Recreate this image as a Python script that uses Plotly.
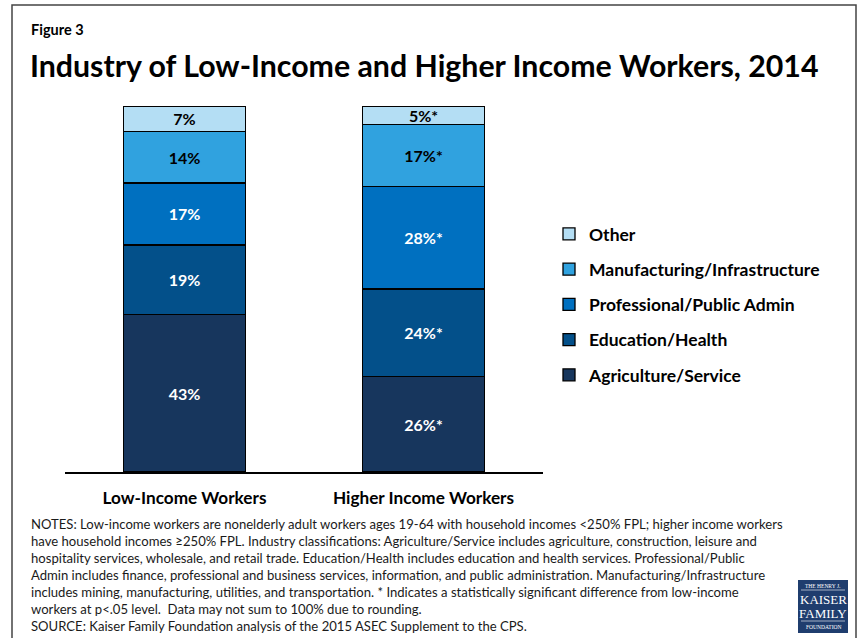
import plotly.graph_objects as go

# ---------------- data ----------------
categories = ["Low-Income Workers", "Higher Income Workers"]
series = ["Agriculture/Service", "Education/Health", "Professional/Public Admin",
          "Manufacturing/Infrastructure", "Other"]
low_income = [43, 19, 17, 14, 7]
higher_income = [26, 24, 28, 17, 5]
higher_significant = [True, True, True, True, True]

colors = ["#17365D", "#03508A", "#0070C0", "#30A2DF", "#B4DEF4"]
label_colors = ["white", "white", "white", "black", "black"]

notes_lines = [
    "NOTES: Low-income workers are nonelderly adult workers ages 19-64 with household incomes &lt;250% FPL; higher income workers",
    "have household incomes ≥250% FPL. Industry classifications: Agriculture/Service includes agriculture, construction, leisure and",
    "hospitality services, wholesale, and retail trade. Education/Health includes education and health services. Professional/Public",
    "Admin includes finance, professional and business services, information, and public administration. Manufacturing/Infrastructure",
    "includes mining, manufacturing, utilities, and transportation. * Indicates a statistically significant difference from low-income",
    "workers at p&lt;.05 level.  Data may not sum to 100% due to rounding.",
    "SOURCE: Kaiser Family Foundation analysis of the 2015 ASEC Supplement to the CPS.",
]

FONT = "Lato"
W, H = 861, 638
L, R, T, B = 65, 318, 106, 166
PW, PH = W - L - R, H - T - B


def px(x):
    return (x - L) / PW


def py(y):
    return (H - B - y) / PH


fig = go.Figure()
n = len(series)
for i, name in enumerate(series):
    txt = [f"{low_income[i]}%", f"{higher_income[i]}%" + ("*" if higher_significant[i] else "")]
    fig.add_trace(go.Bar(
        x=categories, y=[low_income[i], higher_income[i]], name=name,
        marker=dict(color=colors[i], line=dict(color="black", width=1.3)),
        text=txt, texttemplate="<b>%{text}</b>", textposition="inside",
        insidetextanchor="middle", constraintext="none",
        textfont=dict(family=FONT, size=16, color=label_colors[i]),
        width=0.51, legendgroup=name, legendrank=n - i, hoverinfo="skip",
    ))

fig.update_layout(
    width=W, height=H, autosize=False,
    margin=dict(l=L, r=R, t=T, b=B, pad=0),
    paper_bgcolor="white", plot_bgcolor="white",
    barmode="stack", bargap=0.49,
    font=dict(family=FONT, color="black"),
    showlegend=True,
    legend=dict(traceorder="grouped", x=px(549), y=py(216), xanchor="left", yanchor="top",
                font=dict(family=FONT, size=17.5, color="black", weight="bold"),
                tracegroupgap=9.5, itemwidth=30, bgcolor="rgba(0,0,0,0)"),
    xaxis=dict(range=[-0.5, 1.5], showline=True, linecolor="black", linewidth=1.5,
               showgrid=False, zeroline=False, ticks="", ticklabelstandoff=10,
               tickfont=dict(family=FONT, size=17.2, color="black", weight="bold"),
               fixedrange=True),
    yaxis=dict(range=[0, 100], visible=False, showgrid=False, zeroline=False, fixedrange=True),
)

# frame
fig.add_shape(type="rect", xref="paper", yref="paper",
              x0=px(12), x1=px(856), y0=py(5), y1=py(660),
              line=dict(color="#444444", width=1.5), fillcolor="rgba(0,0,0,0)", layer="below")

fig.add_annotation(text="<b>Figure 3</b>", xref="paper", yref="paper", x=px(29), y=py(29),
                   xanchor="left", yanchor="middle", showarrow=False,
                   font=dict(family=FONT, size=14.5, color="black"))
fig.add_annotation(text="<b>Industry of Low-Income and Higher Income Workers, 2014</b>",
                   xref="paper", yref="paper", x=px(28), y=py(65),
                   xanchor="left", yanchor="middle", showarrow=False,
                   font=dict(family=FONT, size=30.3, color="black"))
fig.add_annotation(text="<br>".join(notes_lines), xref="paper", yref="paper",
                   x=px(29), y=py(514), xanchor="left", yanchor="top", align="left",
                   showarrow=False, font=dict(family=FONT, size=13.1, color="#1a1a1a"))

# logo
fig.add_shape(type="rect", xref="paper", yref="paper", x0=px(798), x1=px(848), y0=py(580), y1=py(633),
              line=dict(width=0), fillcolor="#1F3D6E")
for txt, yy, sz in [("THE HENRY J.", 586, 5.5), ("KAISER", 599, 13), ("FAMILY", 613, 13), ("FOUNDATION", 627, 5.5)]:
    fig.add_annotation(text=txt, xref="paper", yref="paper", x=px(823), y=py(yy),
                       xanchor="center", yanchor="middle", showarrow=False,
                       font=dict(family="Liberation Serif", size=sz, color="white"))
for yy in [590, 621]:
    fig.add_shape(type="line", xref="paper", yref="paper", x0=px(801), x1=px(845), y0=py(yy), y1=py(yy),
                  line=dict(color="white", width=0.6))

fig.write_html("out.html")
